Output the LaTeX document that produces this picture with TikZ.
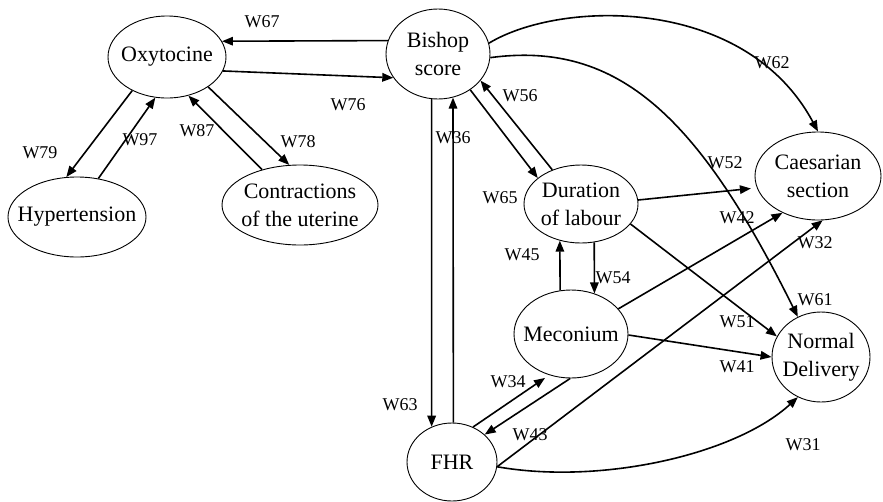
\documentclass[tikz,border=0pt]{standalone}
\usepackage{fontspec}
\setmainfont{Liberation Serif}
\usetikzlibrary{arrows.meta,shapes.geometric}
\tikzset{
  state/.style={draw,ellipse,line width=0.9pt,inner sep=-30pt,align=center,font=\fontsize{22}{28}\selectfont},
  wlabel/.style={font=\fontsize{18}{20}\selectfont,inner sep=0pt},
  arr/.style={line width=1.6pt,-{Triangle[length=11pt,width=8.5pt]}}
}

\begin{document}
\begin{tikzpicture}[x=1pt,y=-1pt]
        \useasboundingbox (0,0) rectangle (883,501);
        \node[state,minimum width=118pt,minimum height=82pt] (oxy) at (167,57) {Oxytocine};
        \node[state,minimum width=104pt,minimum height=90pt] (bishop) at (438,54) {Bishop\\score};
        \node[state,minimum width=138pt,minimum height=80pt] (hyp) at (77,217) {Hypertension};
        \node[state,minimum width=156pt,minimum height=80pt] (contr) at (300,205) {Contractions\\of the uterine};
        \node[state,minimum width=114pt,minimum height=78pt] (dur) at (581,204) {Duration\\of labour};
        \node[state,minimum width=126pt,minimum height=88pt] (caes) at (818,176) {Caesarian\\section};
        \node[state,minimum width=114pt,minimum height=88pt] (mec) at (571,334) {Meconium};
        \node[state,minimum width=98pt,minimum height=90pt] (normal) at (821,357) {Normal\\Delivery};
        \node[state,minimum width=90pt,minimum height=78pt] (fhr) at (452,462) {FHR};
        % straight links
        \foreach \a/\b/\s in {bishop.165/oxy.16/0,oxy.346/bishop.208/0,oxy.224/hyp.105/0,hyp.61/oxy.254/0,
          contr.137/oxy.299/0,oxy.324/contr.105/0,bishop.262/fhr.120/0,fhr.88/bishop.289/0,
          bishop.312/dur.149/0,dur.130/bishop.328/0,dur.4/caes.191/6,dur.338/normal.155/0,
          mec.104/dur.240/0,dur.289/mec.60/0,mec.28/caes.226/0,mec.359/normal.180/0,
          fhr.59/mec.242/5,mec.269/fhr.40/0,fhr.354/caes.276/0}
          \draw[arr,shorten >=\s pt] (\a) -- (\b);
        % curved links
        \draw[arr] (bishop.12) .. controls (560,0) and (745,-5) .. (caes.north);
        \draw[arr] (bishop.356) .. controls (620,40) and (700,120) .. (normal.120);
        \draw[arr] (fhr.354) .. controls (600,485) and (735,455) .. (normal.240);
        % weights
        \foreach \w/\x/\y in {67/262/22,76/348/105,79/40/153,97/140/140,87/197/131,78/298/142,63/400/405,
          36/453/138,65/500/198,56/520/96,62/772/63,61/815/300,52/725/163,51/737/322,45/522/255,
          54/613/278,42/737/218,41/737/367,34/508/382,43/530/435,32/815/243,31/803/445}
          \node[wlabel] (w\w) at (\x,\y) {W\w};
      \end{tikzpicture}
\end{document}
